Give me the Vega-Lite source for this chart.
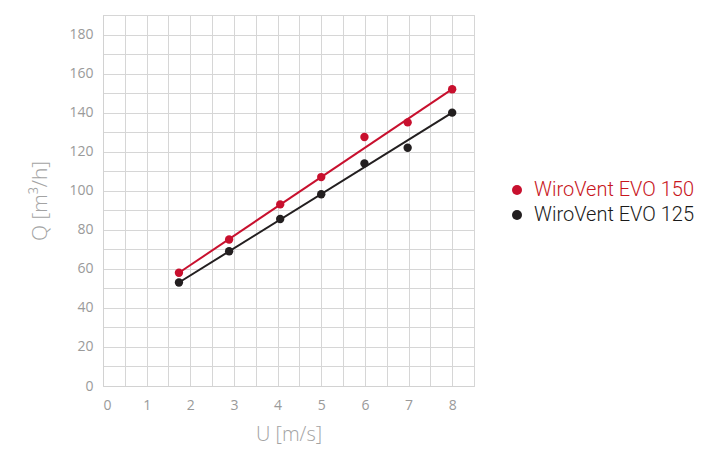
{
  "$schema": "https://vega.github.io/schema/vega-lite/v6.json",
  "autosize": "none",
  "width": 371,
  "height": 371,
  "padding": {"left": 103, "top": 15, "right": 229, "bottom": 66},
  "background": "white",
  "config": {
    "view": {"stroke": "#d2d2d2", "strokeWidth": 1},
    "font": "Open Sans"
  },
  "datasets": {
    "pts": [
      {"u": 1.74, "q": 58, "series": "WiroVent EVO 150"},
      {"u": 2.89, "q": 75, "series": "WiroVent EVO 150"},
      {"u": 4.06, "q": 93, "series": "WiroVent EVO 150"},
      {"u": 5.0, "q": 107, "series": "WiroVent EVO 150"},
      {"u": 5.99, "q": 127.5, "series": "WiroVent EVO 150"},
      {"u": 6.98, "q": 135, "series": "WiroVent EVO 150"},
      {"u": 8.0, "q": 152, "series": "WiroVent EVO 150"},
      {"u": 1.74, "q": 53, "series": "WiroVent EVO 125"},
      {"u": 2.89, "q": 69, "series": "WiroVent EVO 125"},
      {"u": 4.06, "q": 85.5, "series": "WiroVent EVO 125"},
      {"u": 5.0, "q": 98.2, "series": "WiroVent EVO 125"},
      {"u": 5.99, "q": 114, "series": "WiroVent EVO 125"},
      {"u": 6.98, "q": 122, "series": "WiroVent EVO 125"},
      {"u": 8.0, "q": 140, "series": "WiroVent EVO 125"}
    ],
    "fit": [
      {"u": 1.74, "q": 58, "series": "WiroVent EVO 150"},
      {"u": 8.0, "q": 152, "series": "WiroVent EVO 150"},
      {"u": 1.74, "q": 53, "series": "WiroVent EVO 125"},
      {"u": 8.0, "q": 140, "series": "WiroVent EVO 125"}
    ]
  },
  "encoding": {
    "x": {
      "field": "u", "type": "quantitative",
      "scale": {"domain": [0, 8.5], "nice": false, "zero": false},
      "axis": {
        "title": "U [m/s]",
        "format": "~g",
        "values": [0, 0.5, 1, 1.5, 2, 2.5, 3, 3.5, 4, 4.5, 5, 5.5, 6, 6.5, 7, 7.5, 8, 8.5],
        "labelExpr": "datum.value % 1 === 0 && datum.value <= 8 ? datum.label : ''",
        "grid": true, "gridColor": "#d6d6d6", "gridWidth": 1,
        "domainColor": "#d2d2d2", "ticks": false,
        "labelFont": "Open Sans", "labelFontSize": 14, "labelColor": "#9a9a9a", "labelPadding": 12,
        "titleFont": "Open Sans", "titleFontSize": 20, "titleFontWeight": 300, "titleColor": "#a3a3a3", "titlePadding": 12
      }
    },
    "y": {
      "field": "q", "type": "quantitative",
      "scale": {"domain": [0, 190], "nice": false},
      "axis": {
        "title": "Q [m³/h]",
        "values": [0, 10, 20, 30, 40, 50, 60, 70, 80, 90, 100, 110, 120, 130, 140, 150, 160, 170, 180, 190],
        "labelExpr": "datum.value % 20 === 0 && datum.value <= 180 ? datum.label : ''",
        "grid": true, "gridColor": "#d6d6d6", "gridWidth": 1,
        "domainColor": "#d2d2d2", "ticks": false,
        "labelFont": "Open Sans", "labelFontSize": 14, "labelColor": "#9a9a9a", "labelPadding": 10,
        "titleFont": "Open Sans", "titleFontSize": 21, "titleFontWeight": 300, "titleColor": "#a3a3a3", "titlePadding": 18
      }
    },
    "color": {
      "field": "series", "type": "nominal",
      "scale": {"domain": ["WiroVent EVO 150", "WiroVent EVO 125"], "range": ["#c8102e", "#231f20"]},
      "legend": {
        "title": null,
        "orient": "none",
        "legendX": 404,
        "legendY": 165,
        "symbolType": "circle",
        "symbolSize": 100,
        "symbolStrokeWidth": 0,
        "labelFont": "Roboto",
        "labelFontSize": 20,
        "labelFontWeight": 300,
        "labelLimit": 300,
        "labelOffset": 7,
        "rowPadding": 5,
        "encode": {
          "labels": {"update": {"fill": {"signal": "datum.value === 'WiroVent EVO 150' ? '#c8161d' : '#1a1a1a'"}}},
          "symbols": {"update": {"fill": {"signal": "datum.value === 'WiroVent EVO 150' ? '#c41e24' : '#000000'"}, "stroke": {"value": "transparent"}, "opacity": {"value": 1}}}
        }
      }
    }
  },
  "layer": [
    {
      "data": {"name": "fit"},
      "mark": {"type": "line", "strokeWidth": 2},
      "encoding": {
        "detail": {"field": "series"}
      }
    },
    {
      "data": {"name": "pts"},
      "mark": {"type": "circle", "size": 70, "opacity": 1},
      "encoding": {}
    }
  ]
}
